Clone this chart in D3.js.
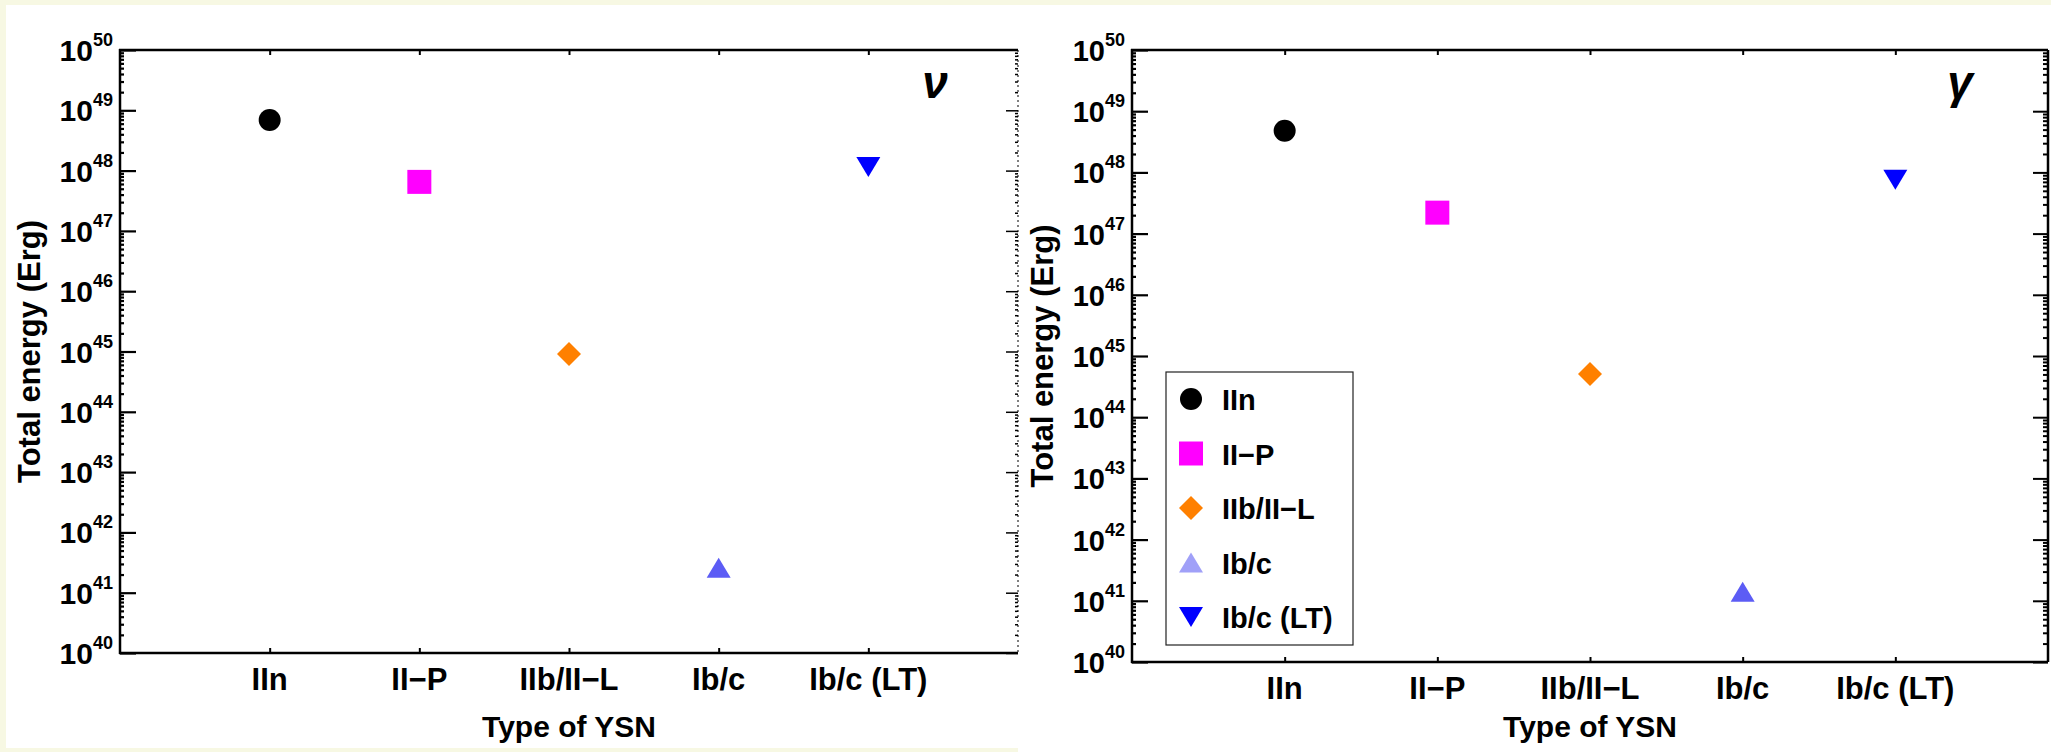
<!DOCTYPE html>
<html><head><meta charset="utf-8">
<script src="https://cdn.jsdelivr.net/npm/d3@7/dist/d3.min.js"></script>
<style>
html,body{margin:0;padding:0;background:#f7f8e3;}
svg{display:block;}
text{font-family:"Liberation Sans",Arial,Helvetica,sans-serif;font-weight:bold;fill:#000;}
</style></head><body>
<svg id="chart" width="2051" height="752"></svg>
<script>
// ---- data ----
const categories = ["IIn", "II\u2212P", "IIb/II\u2212L", "Ib/c", "Ib/c (LT)"];
const categoryPositions = [1, 2, 3, 4, 5];
const neutrinoEnergy = [6.9e48, 6.5e47, 9.1e44, 2.6e41, 1.15e48];
const gammaEnergy = [4.8e48, 2.2e47, 5.1e44, 1.4e41, 7.6e47];
const tickExponents = [40, 41, 42, 43, 44, 45, 46, 47, 48, 49, 50];
const panelLabels = ["\u03bd", "\u03b3"];
const xTitle = "Type of YSN";
const yTitle = "Total energy (Erg)";
const markerShapes = ["circle", "square", "diamond", "triangleUp", "triangleDown"];
const markerColors = ["#000000", "#ff00ff", "#ff8000", "#5c5cf5", "#0000ff"];
const legendColors = ["#000000", "#ff00ff", "#ff8000", "#a0a0f8", "#0000ff"];

const svg = d3.select("#chart");

// panel backgrounds
svg.append("rect").attr("x", 0).attr("y", 0).attr("width", 2051).attr("height", 752).attr("fill", "#f7f8e3");
svg.append("rect").attr("x", 6).attr("y", 5).attr("width", 1014).attr("height", 743).attr("fill", "#ffffff");
svg.append("rect").attr("x", 1018).attr("y", 5).attr("width", 1033).attr("height", 747).attr("fill", "#ffffff");

function markerPath(shape) {
  switch (shape) {
    case "circle": return d3.symbol(d3.symbolCircle, Math.PI * 11 * 11)();
    case "square": return "M-12,-12H12V12H-12Z";
    case "diamond": return "M0,-12L12,0L0,12L-12,0Z";
    case "triangleUp": return "M0,-10L12,10L-12,10Z";
    case "triangleDown": return "M-12,-10L12,-10L0,10Z";
  }
}

const majorTicks = tickExponents.map(e => Math.pow(10, e));
const minorTicks = [];
tickExponents.slice(0, -1).forEach(e => { for (let k = 2; k <= 9; k++) minorTicks.push(k * Math.pow(10, e)); });

function drawPanel(cfg, values) {
  const x = d3.scaleLinear().domain([0, 6]).range([cfg.x0, cfg.x1]);
  const y = d3.scaleLog().domain([1e40, 1e50]).range([cfg.y1, cfg.y0]);
  const g = svg.append("g");

  // left axis: major + minor inward ticks
  const leftMajor = g.append("g").attr("transform", `translate(${cfg.x0},0)`)
    .call(d3.axisLeft(y).tickValues(majorTicks).tickSizeInner(-16).tickSizeOuter(0).tickFormat(""));
  const leftMinor = g.append("g").attr("transform", `translate(${cfg.x0},0)`)
    .call(d3.axisLeft(y).tickValues(minorTicks).tickSizeInner(-4).tickSizeOuter(0).tickFormat(""));
  [leftMajor, leftMinor].forEach(a => {
    a.select(".domain").remove();
    a.selectAll(".tick line").attr("stroke", "#000").attr("stroke-width", 2.2);
  });

  // right axis
  const rightMajor = g.append("g").attr("transform", `translate(${cfg.x1},0)`)
    .call(d3.axisRight(y).tickValues(majorTicks.slice(0, -1)).tickSizeInner(-cfg.rightMajor).tickSizeOuter(0).tickFormat(""));
  const rightMinor = g.append("g").attr("transform", `translate(${cfg.x1},0)`)
    .call(d3.axisRight(y).tickValues(minorTicks).tickSizeInner(-cfg.rightMinor).tickSizeOuter(0).tickFormat(""));
  [rightMajor, rightMinor].forEach(a => {
    a.select(".domain").remove();
    a.selectAll(".tick line").attr("stroke", "#000").attr("stroke-width", cfg.rightTickWidth);
  });
  g.append("line").attr("x1", cfg.x1).attr("x2", cfg.x1).attr("y1", cfg.y0).attr("y2", cfg.y1)
    .attr("stroke", "#000").attr("stroke-width", cfg.rightLineWidth)
    .attr("stroke-dasharray", cfg.rightDash);

  // bottom & top axes with small category ticks
  const bottom = g.append("g").attr("transform", `translate(0,${cfg.y1})`)
    .call(d3.axisBottom(x).tickValues(categoryPositions).tickSizeInner(-5).tickSizeOuter(0).tickFormat(""));
  const top = g.append("g").attr("transform", `translate(0,${cfg.y0})`)
    .call(d3.axisTop(x).tickValues(categoryPositions).tickSizeInner(-5).tickSizeOuter(0).tickFormat(""));
  [bottom, top].forEach(a => {
    a.select(".domain").remove();
    a.selectAll(".tick line").attr("stroke", "#000").attr("stroke-width", 2);
  });
  g.append("line").attr("x1", cfg.x0 - 1).attr("x2", cfg.x1).attr("y1", cfg.y1).attr("y2", cfg.y1)
    .attr("stroke", "#000").attr("stroke-width", 2.5);
  g.append("line").attr("x1", cfg.x0 - 1).attr("x2", cfg.x1).attr("y1", cfg.y0).attr("y2", cfg.y0)
    .attr("stroke", "#000").attr("stroke-width", 2.5);
  g.append("line").attr("x1", cfg.x0).attr("x2", cfg.x0).attr("y1", cfg.y0 - 1).attr("y2", cfg.y1 + 1)
    .attr("stroke", "#000").attr("stroke-width", 2.5);

  // y tick labels 10^n
  tickExponents.forEach(e => {
    const t = g.append("text").attr("x", cfg.x0 - 7).attr("y", y(Math.pow(10, e)) + 11)
      .attr("text-anchor", "end");
    t.append("tspan").attr("font-size", cfg.tickFont).text("10");
    t.append("tspan").attr("font-size", 18).attr("dy", -15).text(String(e));
  });

  // x tick labels
  categories.forEach((c, i) => {
    g.append("text").attr("x", x(categoryPositions[i])).attr("y", cfg.y1 + 37)
      .attr("text-anchor", "middle").attr("font-size", 31).text(c);
  });

  // axis titles
  g.append("text").attr("x", x(3)).attr("y", 737).attr("text-anchor", "middle")
    .attr("font-size", 30).text(xTitle);
  g.append("text").attr("transform", `translate(${cfg.titleX},${(cfg.y0 + cfg.y1) / 2}) rotate(-90)`)
    .attr("text-anchor", "middle").attr("dominant-baseline", "central")
    .attr("font-size", 31).text(yTitle);

  // panel label
  g.append("text").attr("x", cfg.labelX).attr("y", 98).attr("text-anchor", "middle")
    .attr("font-size", 46).attr("font-style", "italic").text(cfg.label);

  // markers
  values.forEach((v, i) => {
    g.append("path").attr("d", markerPath(markerShapes[i]))
      .attr("transform", `translate(${x(categoryPositions[i])},${y(v)})`)
      .attr("fill", markerColors[i]);
  });

  if (cfg.legend) {
    const lg = g.append("g");
    lg.append("rect").attr("x", 1166).attr("y", 372).attr("width", 187).attr("height", 273)
      .attr("fill", "#fff").attr("stroke", "#222").attr("stroke-width", 1.2);
    const ly = d3.scalePoint().domain(categories).range([399, 617]);
    categories.forEach((c, i) => {
      lg.append("path").attr("d", markerPath(markerShapes[i]))
        .attr("transform", `translate(1191,${ly(c)})`).attr("fill", legendColors[i]);
      lg.append("text").attr("x", 1222).attr("y", ly(c) + 11).attr("font-size", 29).text(c);
    });
  }
}

drawPanel({x0: 120, x1: 1018, y0: 50, y1: 653, titleX: 29, labelX: 935, label: panelLabels[0], tickFont: 30,
  rightMajor: 12, rightMinor: 3, rightTickWidth: 1.5, rightLineWidth: 1, rightDash: "2,3", legend: false},
  neutrinoEnergy);
drawPanel({x0: 1132, x1: 2048, y0: 50, y1: 662, titleX: 1042, labelX: 1960, label: panelLabels[1], tickFont: 29,
  rightMajor: 15, rightMinor: 5, rightTickWidth: 2, rightLineWidth: 2.5, rightDash: null, legend: true},
  gammaEnergy);
</script>
</body></html>
